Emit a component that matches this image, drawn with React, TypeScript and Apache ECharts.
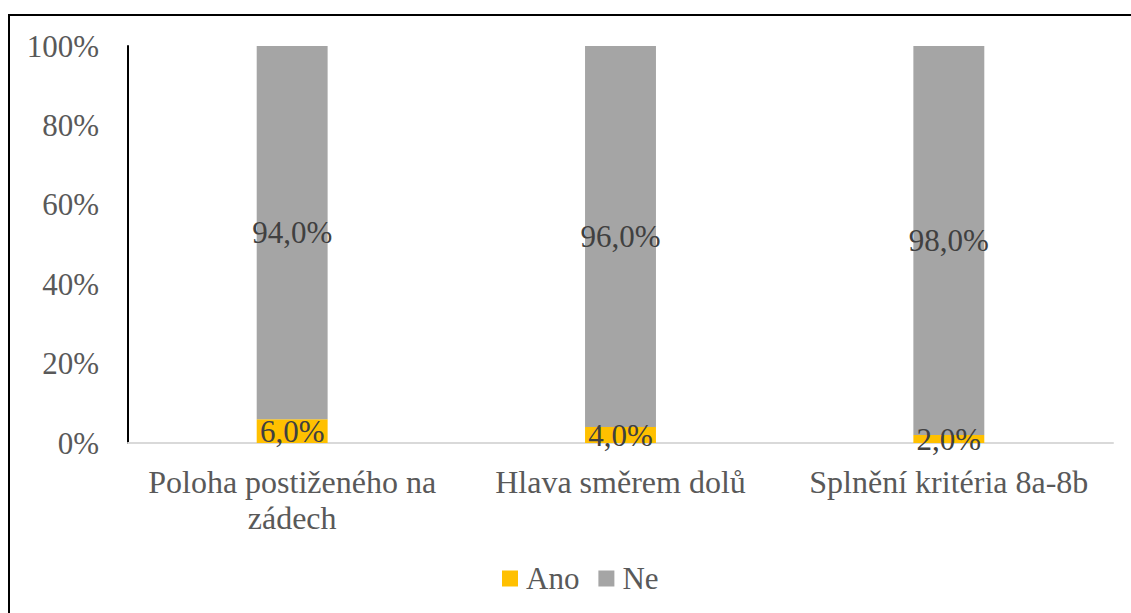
import React, { useEffect, useRef } from "react";
import * as echarts from "echarts";

const categories = ["Poloha postiženého na\nzádech", "Hlava směrem dolů", "Splnění kritéria 8a-8b"];
const anoValues = [6.0, 4.0, 2.0];
const neValues = [94.0, 96.0, 98.0];
const seriesNames = ["Ano", "Ne"];

const FONT = "Liberation Serif";

export default function App() {
  const ref = useRef<HTMLDivElement>(null);
  useEffect(() => {
    if (!ref.current) return;
    const chart = echarts.init(ref.current, null, { renderer: "svg" });
    const fmt = (p: any) => p.value.toFixed(1).replace(".", ",") + "%";
    const dataLabel = {
      show: true,
      position: "inside",
      formatter: fmt,
      fontFamily: FONT,
      fontSize: 31,
      color: "#404040",
    };
    chart.setOption({
      animation: false,
      backgroundColor: "#ffffff",
      textStyle: { fontFamily: FONT },
      graphic: [
        {
          type: "rect",
          shape: { x: 9, y: 15, width: 1200, height: 700 },
          style: { fill: "none", stroke: "#000000", lineWidth: 2 },
          silent: true,
        },
      ],
      grid: { left: 128, top: 46, right: 18, bottom: 170, containLabel: false },
      legend: {
        data: seriesNames,
        top: 558,
        left: 497,
        itemWidth: 16,
        itemHeight: 16,
        itemGap: 19,
        icon: "rect",
        textStyle: { fontFamily: FONT, fontSize: 31, color: "#595959", padding: [0, 0, 0, 3] },
      },
      xAxis: {
        type: "category",
        data: categories,
        axisLine: { lineStyle: { color: "#D9D9D9", width: 2 } },
        axisTick: { show: false },
        axisLabel: {
          fontFamily: FONT,
          fontSize: 32,
          color: "#595959",
          margin: 21,
          lineHeight: 36,
          interval: 0,
        },
      },
      yAxis: {
        type: "value",
        min: 0,
        max: 100,
        interval: 20,
        axisLine: { show: true, lineStyle: { color: "#000000", width: 2 } },
        axisTick: { show: false },
        splitLine: { show: false },
        axisLabel: {
          formatter: "{value}%",
          fontFamily: FONT,
          fontSize: 31,
          color: "#595959",
          margin: 29,
        },
      },
      series: [
        {
          name: seriesNames[0],
          type: "bar",
          stack: "total",
          data: anoValues,
          barWidth: "21.6%",
          itemStyle: { color: "#FFC000" },
          label: dataLabel,
        },
        {
          name: seriesNames[1],
          type: "bar",
          stack: "total",
          data: neValues,
          barWidth: "21.6%",
          itemStyle: { color: "#A5A5A5" },
          label: dataLabel,
        },
      ],
    });
    return () => chart.dispose();
  }, []);
  return (
    <div
      ref={ref}
      style={{ position: "absolute", left: 0, top: 0, width: 1131, height: 613 }}
    />
  );
}
